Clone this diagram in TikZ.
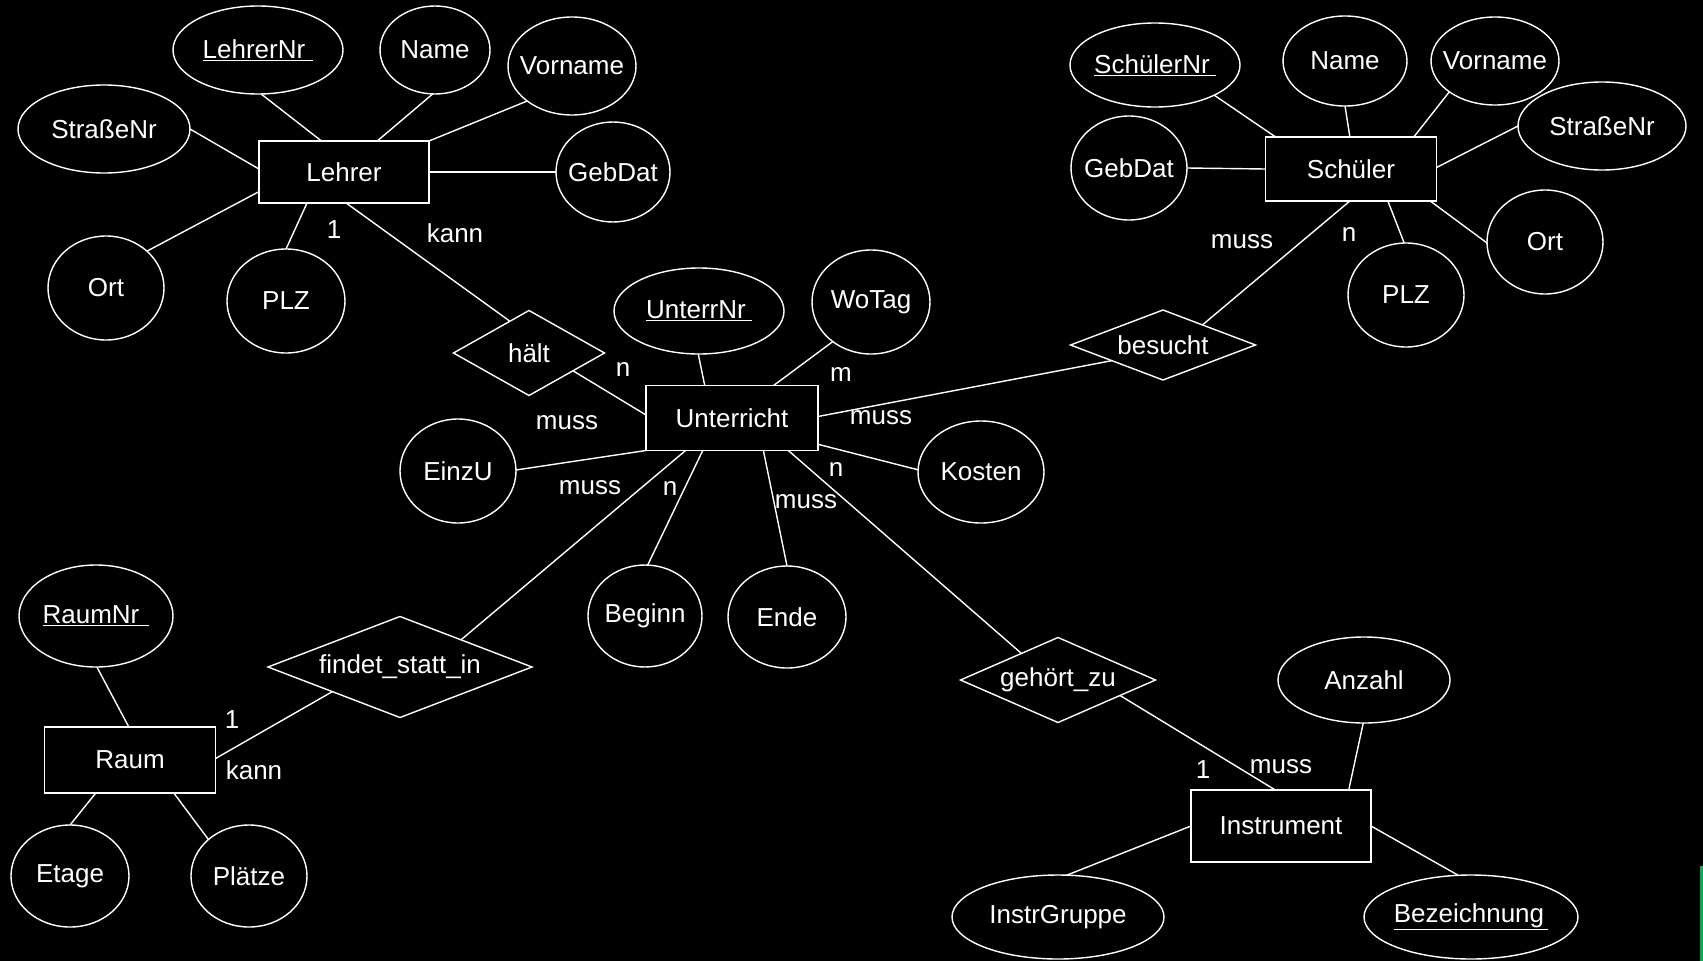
\documentclass[tikz,border=0pt]{standalone}
\usepackage{fontspec}
\setmainfont{Liberation Sans}
\usetikzlibrary{shapes.geometric}
\definecolor{artgreen}{RGB}{0,176,80}
\newcommand{\zt}[1]{\makebox[0pt]{#1}}
\tikzset{
  erfont/.style={text=white, font=\fontsize{26}{30}\selectfont},
  ln/.style={draw=white, line width=1.4pt},
  ent/.style 2 args={draw=white, line width=1.4pt, rectangle, minimum width=#1, minimum height=#2, inner sep=0pt, outer sep=0pt, erfont},
  attr/.style 2 args={draw=white, line width=1.4pt, ellipse, minimum width=#1, minimum height=#2, inner sep=0pt, outer sep=0pt, erfont},
  rel/.style 2 args={draw=white, line width=1.4pt, diamond, minimum width=#1, minimum height=#2, inner sep=0pt, outer sep=0pt, erfont},
  lbl/.style={inner sep=0pt, erfont}
}
\begin{document}
\begin{tikzpicture}[x=1pt,y=-1pt]
\fill[black] (0,0) rectangle (1703,961);
\useasboundingbox (0,0) rectangle (1703,961);
\fill[artgreen] (1700,866) rectangle (1703,961);

% entities
\node[ent={170}{62}] (lehrer) at (344,172) {\zt{Lehrer}};
\node[ent={171}{64}] (schueler) at (1351,169) {\zt{Schüler}};
\node[ent={172}{65}] (unterricht) at (732,418) {\zt{Unterricht}};
\node[ent={171}{66}] (raum) at (130,760) {\zt{Raum}};
\node[ent={180}{72}] (instrument) at (1281,826) {\zt{Instrument}};

% relations
\node[rel={151}{85}] (haelt) at (529,353) {\zt{hält}};
\node[rel={185}{70}] (besucht) at (1163,345) {\zt{besucht}};
\node[rel={264}{101}] (findet) at (400,667) {\zt{findet\_statt\_in}};
\node[rel={195}{85}] (gehoert) at (1058,680) {\zt{gehört\_zu}};

% Lehrer attributes
\node[attr={170}{88}] (lehrernr) at (258,50) {\zt{\underline{LehrerNr\hspace{8pt}}}};
\node[attr={110}{88}] (lname) at (435,50) {\zt{Name}};
\node[attr={128}{98}] (lvorname) at (572,66) {\zt{Vorname}};
\node[attr={172}{88}] (lstrasse) at (104,129) {\zt{StraßeNr}};
\node[attr={114}{100}] (lgebdat) at (613,172) {\zt{GebDat}};
\node[attr={116}{104}] (lort) at (106,288) {\zt{Ort}};
\node[attr={118}{104}] (lplz) at (286,301) {\zt{PLZ}};

% Schueler attributes
\node[attr={170}{84}] (schuelernr) at (1155,65) {\zt{\underline{SchülerNr\hspace{6pt}}}};
\node[attr={124}{90}] (sname) at (1345,61) {\zt{Name}};
\node[attr={128}{88}] (svorname) at (1495,61) {\zt{Vorname}};
\node[attr={168}{88}] (sstrasse) at (1602,126) {\zt{StraßeNr}};
\node[attr={116}{104}] (sgebdat) at (1129,168) {\zt{GebDat}};
\node[attr={116}{104}] (sort) at (1545,242) {\zt{Ort}};
\node[attr={116}{104}] (splz) at (1406,295) {\zt{PLZ}};

% Unterricht attributes
\node[attr={170}{86}] (unterrnr) at (699,311) {\zt{\underline{UnterrNr\hspace{6pt}}}};
\node[attr={118}{104}] (wotag) at (871,302) {\zt{WoTag}};
\node[attr={116}{104}] (einzu) at (458,471) {\zt{EinzU}};
\node[attr={126}{102}] (kosten) at (981,472) {\zt{Kosten}};
\node[attr={114}{102}] (beginn) at (645,616) {\zt{Beginn}};
\node[attr={118}{102}] (ende) at (787,617) {\zt{Ende}};

% Raum attributes
\node[attr={154}{102}] (raumnr) at (96,616) {\zt{\underline{RaumNr\hspace{10pt}}}};
\node[attr={118}{102}] (etage) at (70,876) {\zt{Etage}};
\node[attr={116}{102}] (plaetze) at (249,876) {\zt{Plätze}};

% Instrument attributes
\node[attr={172}{86}] (anzahl) at (1364,680) {\zt{Anzahl}};
\node[attr={212}{84}] (instrgruppe) at (1058,917) {\zt{InstrGruppe}};
\node[attr={214}{84}] (bezeichnung) at (1471,917) {\zt{\underline{Bezeichnung\hspace{4pt}}}};

% connectors
\draw[ln] (lehrernr.274) -- (lehrer.126);
\draw[ln] (lname.267) -- (lehrer.43);
\draw[ln] (lvorname.218) -- (lehrer.north east);
\draw[ln] (lstrasse.0) -- (lehrer.178);
\draw[ln] (lgebdat.180) -- (lehrer.0);
\draw[ln] (lort.42) -- (lehrer.193);
\draw[ln] (lplz.90) -- (lehrer.220);
\draw[ln] (lehrer.274) -- (haelt.121);
\draw[ln] (haelt.338) -- (unterricht.178);
\draw[ln] (unterrnr.269) -- (unterricht.130);
\draw[ln] (wotag.226) -- (unterricht.38);
\draw[ln] (besucht.197) -- (unterricht.1);
\draw[ln] (kosten.178) -- (unterricht.343);
\draw[ln] (einzu.1) -- (unterricht.south west);
\draw[ln] (findet.24) -- (unterricht.215);
\draw[ln] (beginn.87) -- (unterricht.228);
\draw[ln] (ende.90) -- (unterricht.314);
\draw[ln] (gehoert.144) -- (unterricht.330);
\draw[ln] (schuelernr.333) -- (schueler.157);
\draw[ln] (sname.270) -- (schueler.92);
\draw[ln] (svorname.214) -- (schueler.27);
\draw[ln] (sstrasse.180) -- (schueler.1);
\draw[ln] (sgebdat.0) -- (schueler.180);
\draw[ln] (splz.92) -- (schueler.319);
\draw[ln] (sort.181) -- (schueler.338);
\draw[ln] (schueler.268) -- (besucht.27);
\draw[ln] (raumnr.271) -- (raum.92);
\draw[ln] (raum.1) -- (findet.200);
\draw[ln] (etage.90) -- (raum.224);
\draw[ln] (plaetze.138) -- (raum.323);
\draw[ln] (gehoert.346) -- (instrument.99);
\draw[ln] (anzahl.269) -- (instrument.28);
\draw[ln] (instrgruppe.78) -- (instrument.180);
\draw[ln] (bezeichnung.107) -- (instrument.0);

% cardinality labels
\node[lbl] (l1) at (334,230) {1};
\node[lbl] (lkann) at (455,233) {kann};
\node[lbl] (hn) at (623,370) {n};
\node[lbl] (hmuss) at (567,423) {muss};
\node[lbl] (um) at (841,375) {m};
\node[lbl] (bmuss) at (881,418) {muss};
\node[lbl] (fmuss) at (590,488) {muss};
\node[lbl] (fn) at (670,488) {n};
\node[lbl] (emuss) at (806,502) {muss};
\node[lbl] (gn) at (836,469) {n};
\node[lbl] (smuss) at (1242,242) {muss};
\node[lbl] (sn) at (1349,235) {n};
\node[lbl] (r1) at (232,720) {1};
\node[lbl] (rkann) at (254,770) {kann};
\node[lbl] (i1) at (1203,770) {1};
\node[lbl] (imuss) at (1281,767) {muss};
\end{tikzpicture}
\end{document}
